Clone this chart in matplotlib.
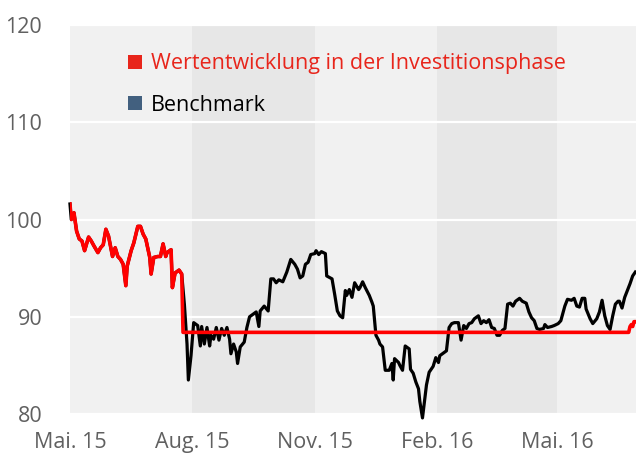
import pandas as pd
import matplotlib
matplotlib.use("Agg")
import matplotlib.pyplot as plt
from matplotlib.patches import Patch

# =========================================================
# DATA (days since 01.05.2015, index level)
# =========================================================

START = pd.Timestamp("2015-05-01")

bench_days = [0, 1, 3, 5, 7, 9, 11, 14, 16, 18, 21, 23, 25, 27, 29, 32, 34, 36, 38, 40,
              42, 43, 46, 48, 51, 53, 55, 57, 60, 61, 63, 66, 68, 70, 72, 73, 76, 77, 79, 82,
              84, 86, 88, 89, 91, 93, 96, 98, 99, 101, 103, 105, 106, 108, 110, 112, 114, 116, 118, 120,
              121, 123, 125, 126, 128, 131, 133, 135, 138, 140, 142, 143, 146, 149, 151, 153, 155, 157, 160, 163,
              166, 169, 171, 173, 175, 177, 179, 181, 184, 185, 187, 189, 192, 193, 197, 199, 201, 203, 205, 207,
              208, 210, 212, 214, 217, 218, 220, 222, 225, 227, 228, 230, 232, 233, 235, 237, 240, 242, 243, 244,
              247, 248, 250, 252, 255, 256, 258, 260, 262, 263, 265, 267, 268, 270, 273, 275, 277, 278, 280, 283,
              285, 287, 289, 292, 294, 296, 298, 300, 302, 304, 307, 309, 311, 313, 315, 317, 319, 321, 323, 325,
              327, 329, 331, 333, 335, 338, 340, 343, 345, 347, 349, 351, 353, 356, 357, 359, 362, 364, 367, 369,
              372, 374, 377, 379, 381, 383, 385, 387, 388, 391, 393, 396, 398, 400, 402, 404, 406, 408, 410, 412,
              413, 415, 417, 419, 421, 423, 425]

bench_values = [101.6, 100.0, 100.7, 98.8, 98.0, 97.8, 96.8, 98.2, 97.8, 97.3, 96.6, 97.1, 97.4, 99.0, 98.3, 96.2, 97.1, 96.2, 95.9, 95.4,
                93.2, 95.2, 96.8, 97.6, 99.3, 99.3, 98.5, 98.0, 96.1, 94.4, 96.1, 96.2, 96.2, 97.5, 96.2, 96.6, 96.9, 93.0, 94.5, 94.8,
                94.4, 91.3, 87.2, 83.5, 86.0, 89.4, 89.1, 87.0, 89.0, 87.2, 88.9, 87.0, 88.1, 87.7, 88.9, 87.6, 88.8, 88.1, 88.9, 87.7,
                86.2, 87.2, 86.4, 85.2, 86.9, 87.4, 88.9, 90.0, 90.3, 90.5, 89.0, 90.6, 91.1, 90.6, 93.9, 93.9, 93.5, 93.8, 93.6, 94.6,
                95.9, 95.4, 94.9, 94.0, 94.2, 95.4, 95.6, 96.4, 96.5, 96.8, 96.4, 96.7, 96.5, 94.2, 93.9, 92.3, 90.6, 90.1, 89.9, 92.7,
                92.2, 92.8, 92.0, 93.5, 92.8, 93.0, 93.6, 93.0, 92.2, 91.5, 91.1, 88.1, 87.6, 87.2, 86.9, 84.5, 84.5, 85.2, 83.5, 85.7,
                85.3, 85.0, 84.5, 87.0, 86.7, 84.6, 84.2, 83.3, 82.6, 81.3, 79.6, 81.9, 83.0, 84.3, 84.9, 85.8, 85.3, 86.0, 86.2, 86.5,
                88.9, 89.3, 89.4, 89.4, 87.6, 89.1, 88.8, 89.3, 89.4, 89.8, 90.1, 89.3, 89.6, 89.4, 89.7, 88.9, 88.8, 88.1, 88.1, 88.6,
                88.8, 91.3, 91.4, 91.1, 91.6, 91.9, 91.6, 91.4, 90.5, 89.9, 89.6, 88.8, 88.7, 88.8, 89.2, 88.9, 89.0, 89.1, 89.3, 89.6,
                91.1, 91.8, 91.7, 91.9, 91.1, 91.0, 91.9, 91.9, 90.8, 89.8, 89.3, 89.8, 90.5, 91.7, 90.1, 89.1, 88.7, 90.1, 91.3, 91.6,
                91.6, 90.9, 92.0, 92.7, 93.4, 94.2, 94.6]

phase_days = [0, 1, 3, 5, 7, 9, 11, 14, 16, 18, 21, 23, 25, 27, 29, 32, 34, 36, 38, 40,
              42, 43, 46, 48, 51, 53, 55, 57, 60, 61, 63, 66, 68, 70, 72, 73, 76, 77, 79, 82,
              84, 85, 420, 421, 422, 423, 424, 425]

phase_values = [101.6, 100.0, 100.7, 98.8, 98.0, 97.8, 96.8, 98.2, 97.8, 97.3, 96.6, 97.1, 97.4, 99.0, 98.3, 96.2, 97.1, 96.2, 95.9, 95.4,
                93.2, 95.2, 96.8, 97.6, 99.3, 99.3, 98.5, 98.0, 96.1, 94.4, 96.1, 96.2, 96.2, 97.5, 96.2, 96.6, 96.9, 93.0, 94.5, 94.8,
                94.4, 88.4, 88.4, 89.0, 89.2, 89.0, 89.5, 89.5]

tick_dates = ["2015-05-01", "2015-08-01", "2015-11-01", "2016-02-01", "2016-05-01"]
tick_labels = ["Mai. 15", "Aug. 15", "Nov. 15", "Feb. 16", "Mai. 16"]
shaded_quarters = [("2015-08-01", "2015-11-01"), ("2016-02-01", "2016-05-01")]

# =========================================================
# STYLE
# =========================================================

plt.rcParams["font.family"] = ["Open Sans", "DejaVu Sans"]

RED = "#ff0000"
LEGEND_RED = "#e8251b"
BENCH_BLUE = "#42607f"
LIGHT_BG = "#f1f1f1"
DARK_BG = "#e7e7e7"
TICK_GREY = "#606060"

bench_x = START + pd.to_timedelta(bench_days, unit="D")
phase_x = START + pd.to_timedelta(phase_days, unit="D")

fig = plt.figure(figsize=(6.36, 4.55), dpi=100)
ax = fig.add_axes([0.110, 0.090, 0.890, 0.855])
ax.set_facecolor(LIGHT_BG)

for a, b in shaded_quarters:
    ax.axvspan(pd.Timestamp(a), pd.Timestamp(b), color=DARK_BG, lw=0, zorder=0)

ax.set_axisbelow(True)
ax.yaxis.grid(True, color="white", lw=1.6)
ax.xaxis.grid(False)

ax.plot(bench_x, bench_values, color="black", lw=2.3, zorder=3, clip_on=False,
        solid_joinstyle="round")
ax.plot(phase_x, phase_values, color=RED, lw=2.6, zorder=4, solid_joinstyle="round")

ax.set_ylim(80, 120)
ax.set_yticks([80, 90, 100, 110, 120])
ax.set_xlim(START, START + pd.Timedelta(days=425.5))
ax.set_xticks(pd.to_datetime(tick_dates))
ax.set_xticklabels(tick_labels)

for s in ax.spines.values():
    s.set_visible(False)
ax.tick_params(axis="both", length=0, labelsize=15.5, colors=TICK_GREY)
ax.tick_params(axis="y", pad=20)
ax.tick_params(axis="x", pad=13)

handles = [Patch(facecolor=LEGEND_RED, edgecolor="none"),
           Patch(facecolor=BENCH_BLUE, edgecolor="none")]
leg = ax.legend(handles, ["Wertentwicklung in der Investitionsphase", "Benchmark"],
                loc="upper left", bbox_to_anchor=(0.1025, 0.927), frameon=False,
                fontsize=15.5, handlelength=0.65, handleheight=0.65, handletextpad=0.4,
                labelspacing=0.95, borderpad=0, borderaxespad=0,
                labelcolor=[LEGEND_RED, "black"])

fig.savefig("out.png", dpi=100)
